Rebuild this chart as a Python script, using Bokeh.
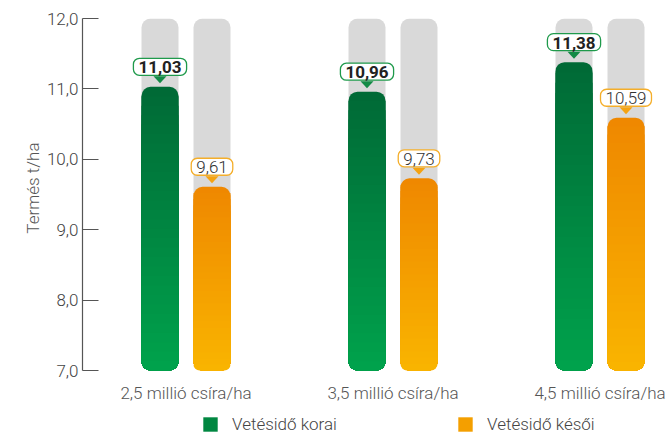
from bokeh.plotting import figure
from bokeh.models import Range1d, FixedTicker, Label, Legend, LegendItem, LinearAxis, Title
from bokeh.embed import file_html
from bokeh.resources import INLINE
from bokeh.core.properties import value

# ---------------- data ----------------
categories = ["2,5 millió csíra/ha", "3,5 millió csíra/ha", "4,5 millió csíra/ha"]
korai = [11.03, 10.96, 11.38]
kesoi = [9.61, 9.73, 10.59]
series_names = ["Vetésidő korai", "Vetésidő késői"]
y_ticks = [7, 8, 9, 10, 11, 12]
y_tick_labels = ["7,0", "8,0", "9,0", "10,0", "11,0", "12,0"]
axis_title = "Termés t/ha"

# ---------------- style / geometry ----------------
FONT = "Roboto"
FONT_L = "Roboto Light"
W, H = 668, 434
BL, BR, BT, BB = 82, 0, 18, 0
FW, FH = W - BL - BR, H - BT - BB
GROUP_PX = 207.0
UNIT_PX = 70.4
AX_MIN, AX_MAX = y_ticks[0], y_ticks[-1]
X0 = -0.5
X1 = X0 + FW / GROUP_PX
Y1 = AX_MAX
Y0 = AX_MAX - FH / UNIT_PX
PX_X = (X1 - X0) / FW      # data units per pixel
PX_Y = (Y1 - Y0) / FH

OFF = 26 * PX_X
BW = 37 * PX_X
RAD = 9

green_top, green_bot = (0, 106, 54), (0, 162, 76)
orange_top, orange_bot = (239, 136, 0), (249, 180, 0)
green_border, orange_border = "#1f9a4b", "#f4ae2a"

def hexc(c):
    return "#%02x%02x%02x" % tuple(int(round(v)) for v in c)

def mix(a, b, t):
    return tuple(a[i] + (b[i] - a[i]) * t for i in range(3))

p = figure(width=W, height=H, output_backend="svg", toolbar_location=None,
           x_range=Range1d(X0, X1), y_range=Range1d(Y0, Y1),
           min_border_left=BL, min_border_right=BR, min_border_top=BT, min_border_bottom=BB,
           x_axis_location=None, y_axis_location=None)
p.outline_line_color = None
p.grid.visible = False
p.background_fill_color = "white"

yax = LinearAxis(ticker=FixedTicker(ticks=y_ticks), bounds=(AX_MIN, AX_MAX),
                 major_label_overrides={t: l for t, l in zip(y_ticks, y_tick_labels)})
yax.major_label_text_font = FONT_L
yax.major_label_text_font_size = "17px"
yax.major_label_text_color = "#444444"
yax.major_label_standoff = 4
yax.axis_line_color = "#555555"
yax.axis_line_width = 1.2
yax.major_tick_line_color = "#555555"
yax.major_tick_line_width = 1.2
yax.major_tick_in = 16
yax.major_tick_out = 0
yax.minor_tick_line_color = None
p.add_layout(yax, "left")

# axis title as a side title, aligned so that it sits where the reference has it
p.add_layout(Title(text=axis_title, align="right", offset=124, standoff=2,
                   text_font=FONT_L, text_font_size="17px", text_font_style="normal",
                   text_color="#555555"), "left")

# category labels under the groups
p.text(x=list(range(len(categories))), y=[AX_MIN] * len(categories), text=categories,
       y_offset=22, text_align="center", text_baseline="middle",
       text_font=value(FONT_L), text_font_size="17px", text_color="#555555")

xs_k = [i - OFF for i in range(len(categories))]
xs_l = [i + OFF for i in range(len(categories))]

# grey tracks
for xs in (xs_k, xs_l):
    p.vbar(x=xs, width=BW, bottom=AX_MIN, top=AX_MAX, fill_color="#d9d9d9", line_color=None,
           border_radius=RAD)

# gradient bars (nested, tallest drawn first)
K = 30
legend_renderers = []
for xs, vals, ctop, cbot in ((xs_k, korai, green_top, green_bot), (xs_l, kesoi, orange_top, orange_bot)):
    rs = []
    for k in range(K):
        frac = 1 - k / K
        tops = [AX_MIN + (v - AX_MIN) * frac for v in vals]
        col = hexc(mix(ctop, cbot, k / (K - 1)))
        rad = RAD if k == 0 else (0, 0, RAD, RAD)
        rs.append(p.vbar(x=xs, width=BW, bottom=AX_MIN, top=tops, fill_color=col,
                         line_color=None, border_radius=rad))
    legend_renderers.append(rs[K // 2])

# pointers and bubbles
for xs, vals, border, bold in ((xs_k, korai, green_border, True), (xs_l, kesoi, orange_border, False)):
    tri_x = [[x - 6.5 * PX_X, x + 6.5 * PX_X, x] for x in xs]
    tri_y = [[v + 10.5 * PX_Y, v + 10.5 * PX_Y, v + 3.5 * PX_Y] for v in vals]
    fill = "#138a45" if bold else "#f5a312"
    p.patches(xs=tri_x, ys=tri_y, fill_color=fill, line_color=None)
    for x, v in zip(xs, vals):
        lab = Label(x=x, y=v, y_offset=20, text=f"{v:.2f}".replace(".", ","),
                    text_align="center", text_baseline="middle",
                    text_font=FONT if bold else FONT_L, text_font_size="17px",
                    text_font_style="bold" if bold else "normal",
                    text_color="#222222" if bold else "#333333",
                    background_fill_color="white", border_line_color=border,
                    border_line_width=1.3, border_radius=6,
                    padding=dict(left=5, right=5, top=3, bottom=2))
        p.add_layout(lab)

# legends
for r, name, vx in zip(legend_renderers, series_names, (119, 374)):
    lg = Legend(items=[LegendItem(label=name, renderers=[r])], location=(vx, 0),
                orientation="horizontal", glyph_width=18, glyph_height=18,
                label_standoff=13, label_text_font=FONT_L, label_text_font_size="17px",
                label_text_color="#444444", padding=0, margin=0, label_height=14,
                border_line_color=None, background_fill_alpha=0)
    p.add_layout(lg, "center")

open("out.html", "w").write(file_html(p, INLINE))
